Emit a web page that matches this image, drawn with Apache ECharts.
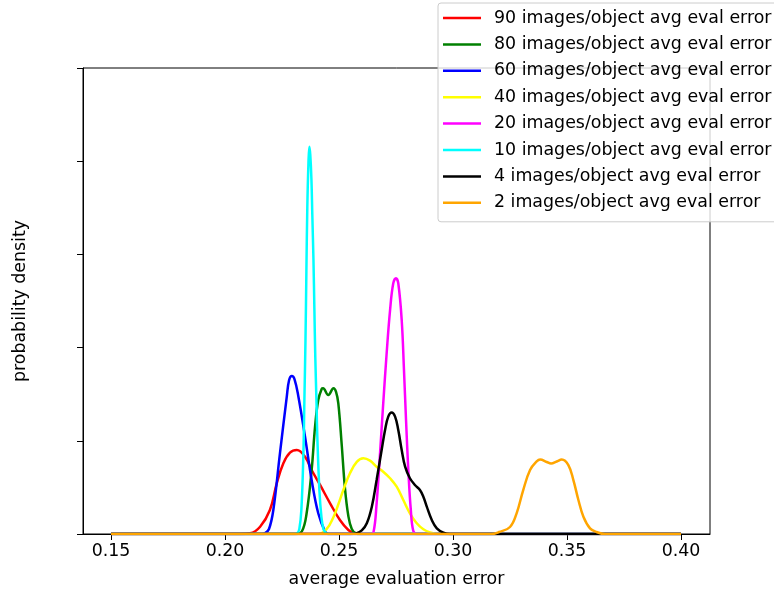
<!DOCTYPE html>
<html>
<head>
<meta charset="utf-8">
<script src="https://cdn.jsdelivr.net/npm/echarts@6/dist/echarts.min.js"></script>
<style>
html,body{margin:0;padding:0;background:#fff;}
#chart{width:774px;height:593px;}
</style>
</head>
<body>
<div id="chart"></div>
<script>
// ---- data ----
const seriesNames = [
  '90 images/object avg eval error',
  '80 images/object avg eval error',
  '60 images/object avg eval error',
  '40 images/object avg eval error',
  '20 images/object avg eval error',
  '10 images/object avg eval error',
  '4 images/object avg eval error',
  '2 images/object avg eval error'
];
const xTicks = [0.15, 0.20, 0.25, 0.30, 0.35, 0.40];
const xTickLabels = ['0.15', '0.20', '0.25', '0.30', '0.35', '0.40'];
const yTicks = [0, 10, 20, 30, 40, 50];

const red90 = [[0.15,0],[0.2066,0],[0.2110,0.07],[0.2154,0.78],[0.2197,2.58],[0.2227,5.44],[0.2256,7.59],[0.2285,8.72],[0.2315,9.01],[0.2351,8.29],[0.2380,6.87],[0.2417,5.26],[0.2461,3.29],[0.2504,1.50],[0.2541,0.43],[0.2570,0.05],[0.2601,0],[0.40,0]];
const green80 = [[0.15,0],[0.2311,0],[0.2338,0.32],[0.2358,2.22],[0.2380,6.87],[0.2395,11.51],[0.2409,14.38],[0.2424,15.56],[0.2430,15.63],[0.2453,14.91],[0.2476,15.63],[0.2487,15.24],[0.2497,14.02],[0.2512,9.55],[0.2526,4.94],[0.2541,1.93],[0.2556,0.54],[0.2575,0.05],[0.2592,0],[0.40,0]];
const blue60 = [[0.15,0],[0.2162,0],[0.2175,0.07],[0.2193,0.54],[0.2212,2.58],[0.2241,8.66],[0.2271,14.73],[0.2281,16.5],[0.2293,16.95],[0.2305,16.6],[0.2322,14.73],[0.2351,10.44],[0.2380,5.79],[0.2409,2.22],[0.2439,0.25],[0.2453,0],[0.40,0]];
const yellow40 = [[0.15,0],[0.2408,0],[0.2446,0.54],[0.2474,1.72],[0.2496,3.11],[0.2519,4.72],[0.2548,6.51],[0.2578,7.73],[0.2607,8.12],[0.2636,7.87],[0.2665,7.22],[0.2694,6.68],[0.2724,5.98],[0.2753,5.08],[0.2782,3.65],[0.2811,2.22],[0.2841,1.15],[0.2870,0.50],[0.2899,0.16],[0.2934,0],[0.40,0]];
const magenta20 = [[0.15,0],[0.2636,0],[0.2651,0.16],[0.2665,3.29],[0.2680,8.66],[0.2694,14.02],[0.2709,19.39],[0.2724,24.03],[0.2738,26.90],[0.2750,27.44],[0.2760,26.90],[0.2775,22.96],[0.2785,17.60],[0.2794,12.23],[0.2804,6.87],[0.2815,2.58],[0.2826,0.32],[0.2842,0],[0.40,0]];
const cyan10 = [[0.15,0],[0.2300,0],[0.2317,0.08],[0.2326,0.55],[0.2335,2.6],[0.2344,8.8],[0.2348,14.1],[0.2353,20.8],[0.2357,28.2],[0.2361,35.0],[0.2366,39.8],[0.2370,41.56],[0.2374,40.7],[0.2379,38.1],[0.2383,34.2],[0.2388,29.4],[0.2392,24.2],[0.2396,19.0],[0.2401,14.4],[0.2405,10.4],[0.2414,4.7],[0.2423,1.8],[0.2431,0.6],[0.2440,0.16],[0.2449,0.03],[0.2470,0],[0.40,0]];
const black4 = [[0.15,0],[0.2548,0],[0.2575,0.07],[0.2600,0.38],[0.2622,1.15],[0.2644,2.93],[0.2665,5.79],[0.2687,9.01],[0.2702,11.16],[0.2716,12.59],[0.2731,13.04],[0.2746,12.59],[0.2760,11.16],[0.2775,9.01],[0.2790,7.22],[0.2811,5.98],[0.2833,5.26],[0.2855,4.72],[0.2870,4.00],[0.2885,2.93],[0.2907,1.50],[0.2929,0.61],[0.2958,0.14],[0.2987,0],[0.40,0]];
const orange2 = [[0.15,0],[0.3168,0],[0.3202,0.21],[0.3250,0.75],[0.3279,2.22],[0.3308,4.72],[0.3338,6.87],[0.3367,7.78],[0.3382,7.99],[0.3411,7.73],[0.3430,7.56],[0.3455,7.78],[0.3477,7.99],[0.3506,7.40],[0.3528,5.79],[0.3550,3.65],[0.3572,1.86],[0.3601,0.61],[0.3630,0.21],[0.3667,0],[0.40,0]];

const seriesData = [red90, green80, blue60, yellow40, magenta20, cyan10, black4, orange2];
const seriesColors = ['#ff0000', '#008000', '#0000ff', '#ffff00', '#ff00ff', '#00ffff', '#000000', '#ffa500'];

// ---- chart ----
const chart = echarts.init(document.getElementById('chart'), null, {renderer: 'canvas'});
const font = 'DejaVu Sans';
const fs = 17.4;

const option = {
  backgroundColor: '#ffffff',
  animation: false,
  grid: {
    left: 83, top: 68, right: 64, bottom: 59,
    show: true, borderColor: '#000', borderWidth: 1, backgroundColor: 'transparent'
  },
  xAxis: {
    type: 'value',
    min: 0.13772, max: 0.41272,
    name: 'average evaluation error',
    nameLocation: 'middle',
    nameGap: 37,
    nameTextStyle: {fontFamily: font, fontSize: fs, color: '#000'},
    axisLine: {show: true, onZero: false, lineStyle: {color: '#000', width: 1}},
    axisTick: {show: true, customValues: xTicks, length: 6, lineStyle: {color: '#000', width: 1}},
    axisLabel: {
      show: true, customValues: xTicks, margin: 9,
      fontFamily: font, fontSize: fs, color: '#000',
      formatter: function (v) {
        for (let i = 0; i < xTicks.length; i++) if (Math.abs(xTicks[i] - v) < 1e-9) return xTickLabels[i];
        return '';
      }
    },
    splitLine: {show: false}
  },
  yAxis: {
    type: 'value',
    min: 0, max: 50, interval: 10,
    name: 'probability density',
    nameLocation: 'middle',
    nameGap: 54,
    nameRotate: 90,
    nameTextStyle: {fontFamily: font, fontSize: fs, color: '#000'},
    axisLine: {show: true, lineStyle: {color: '#000', width: 1}},
    axisTick: {show: true, customValues: yTicks, length: 6, lineStyle: {color: '#000', width: 1}},
    axisLabel: {show: false},
    splitLine: {show: false}
  },
  legend: {
    orient: 'vertical',
    left: 438, top: 3,
    padding: [6, 12, 10, 5],
    itemWidth: 38, itemHeight: 18, itemGap: 8.4,
    itemStyle: {borderWidth: 0},
    backgroundColor: 'rgba(255,255,255,0.8)',
    borderColor: '#cccccc', borderWidth: 1, borderRadius: 3,
    textStyle: {fontFamily: font, fontSize: fs, lineHeight: 18, color: '#000', padding: [0, 0, 0, 8]},
    data: seriesNames.map(function (n) {
      return {name: n, icon: 'path://M0,8 L38,8 L38,10.5 L0,10.5 Z'};
    })
  },
  series: seriesData.map(function (d, i) {
    return {
      name: seriesNames[i],
      type: 'line',
      data: d,
      showSymbol: false,
      symbol: 'none',
      smooth: 0.4,
      clip: true,
      lineStyle: {color: seriesColors[i], width: 2.5},
      itemStyle: {color: seriesColors[i]}
    };
  })
};
chart.setOption(option);
</script>
</body>
</html>
